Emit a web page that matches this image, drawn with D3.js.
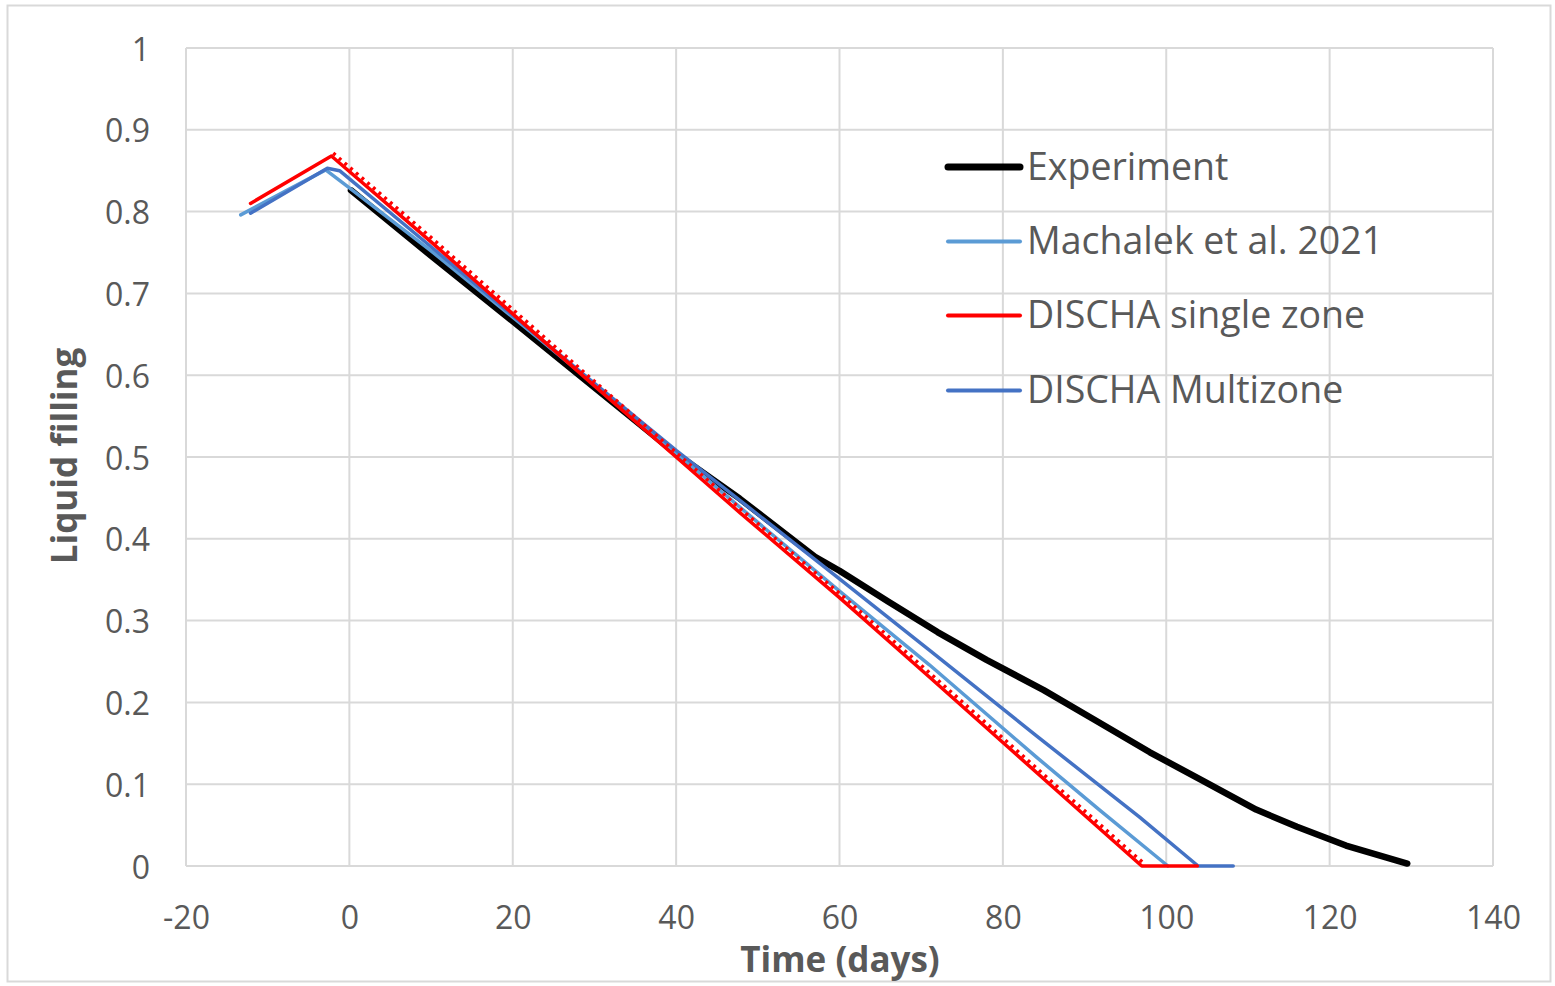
<!DOCTYPE html>
<html>
<head>
<meta charset="utf-8">
<script src="https://cdn.jsdelivr.net/npm/d3@7"></script>
<style>
  html, body { margin: 0; padding: 0; background: #fff; }
  svg { display: block; font-family: "Open Sans", "Noto Sans", sans-serif; }
</style>
</head>
<body>
<svg id="chart" width="1555" height="986"></svg>
<script>
// Liquid filling vs. time, measured and simulated
const xTicks = [-20, 0, 20, 40, 60, 80, 100, 120, 140];
const xTickLabels = ["-20", "0", "20", "40", "60", "80", "100", "120", "140"];
const yTicks = [0, 0.1, 0.2, 0.3, 0.4, 0.5, 0.6, 0.7, 0.8, 0.9, 1];
const yTickLabels = ["0", "0.1", "0.2", "0.3", "0.4", "0.5", "0.6", "0.7", "0.8", "0.9", "1"];

const seriesNames = ["Experiment", "Machalek et al. 2021", "DISCHA single zone", "DISCHA Multizone"];

// [time (days), liquid filling]
const experiment = [
  [0.2, 0.826], [10, 0.746], [20, 0.666], [30, 0.585], [40, 0.504], [47.8, 0.449],
  [57, 0.378], [60, 0.361], [66, 0.323], [72, 0.286], [78, 0.252], [85, 0.215],
  [91, 0.180], [98, 0.139], [104.5, 0.104], [111, 0.069], [116, 0.048], [122, 0.025],
  [129.5, 0.003]
];
const machalek = [
  [-13.3, 0.796], [-2.9, 0.851], [0, 0.829], [10, 0.752], [20, 0.671], [30, 0.589],
  [40, 0.505], [50, 0.420], [60, 0.336], [71, 0.246], [84, 0.134], [92, 0.067],
  [100.2, 0]
];
const dischaSingle = [
  [-12.1, 0.810], [-2.2, 0.868], [10, 0.763], [20, 0.675], [30, 0.587], [40, 0.500],
  [47.8, 0.432], [60, 0.328], [71, 0.231], [80, 0.151], [90, 0.062], [97, 0],
  [103.8, 0]
];
const dischaMulti = [
  [-12.1, 0.798], [-2.7, 0.853], [-1.2, 0.850], [10, 0.757], [20, 0.673], [30, 0.590],
  [40, 0.508], [47.8, 0.447], [60, 0.351], [71, 0.264], [84, 0.160], [96.7, 0.060],
  [103.9, 0], [108.2, 0]
];

const colors = ["#000000", "#5B9BD5", "#FF0000", "#4472C4"];
const widths = [6.5, 3.5, 3.5, 3.5];
const seriesData = [experiment, machalek, dischaSingle, dischaMulti];

const svg = d3.select("#chart");
const plot = { left: 186, right: 1493, top: 48, bottom: 866 };

const x = d3.scaleLinear().domain([-20, 140]).range([plot.left, plot.right]);
const y = d3.scaleLinear().domain([0, 1]).range([plot.bottom, plot.top]);

const gridColor = "#d9d9d9";
const textColor = "#595959";

// outer chart border
svg.append("rect")
  .attr("x", 7.5).attr("y", 5.5).attr("width", 1543).attr("height", 976)
  .attr("fill", "none").attr("stroke", gridColor).attr("stroke-width", 2);

// gridlines
svg.append("g").selectAll("line").data(xTicks).join("line")
  .attr("x1", d => x(d)).attr("x2", d => x(d))
  .attr("y1", plot.top).attr("y2", plot.bottom)
  .attr("stroke", gridColor).attr("stroke-width", 2);
svg.append("g").selectAll("line").data(yTicks).join("line")
  .attr("x1", plot.left).attr("x2", plot.right)
  .attr("y1", d => y(d)).attr("y2", d => y(d))
  .attr("stroke", gridColor).attr("stroke-width", 2);

// axes (labels only, lines come from the grid)
const xAxis = d3.axisBottom(x).tickValues(xTicks).tickSize(0).tickPadding(36)
  .tickFormat((d, i) => xTickLabels[i]);
const gx = svg.append("g").attr("transform", `translate(0,${plot.bottom})`).call(xAxis);
gx.select(".domain").remove();
gx.selectAll("text").attr("font-size", 32).attr("fill", textColor)
  .attr("font-family", "Open Sans, sans-serif").attr("dy", 0).attr("y", 63);

const yAxis = d3.axisLeft(y).tickValues(yTicks).tickSize(0).tickPadding(36)
  .tickFormat((d, i) => yTickLabels[i]);
const gy = svg.append("g").attr("transform", `translate(${plot.left},0)`).call(yAxis);
gy.select(".domain").remove();
gy.selectAll("text").attr("font-size", 32).attr("fill", textColor)
  .attr("font-family", "Open Sans, sans-serif").attr("dy", 0).attr("y", 12).attr("x", -36);

// axis titles
svg.append("text")
  .attr("x", 840).attr("y", 972).attr("text-anchor", "middle")
  .attr("font-size", 35).attr("font-weight", "bold").attr("fill", textColor)
  .text("Time (days)");
svg.append("text")
  .attr("transform", "translate(77,456) rotate(-90)").attr("text-anchor", "middle")
  .attr("font-size", 35).attr("font-weight", "bold").attr("fill", textColor)
  .text("Liquid filling");

// series lines
const line = d3.line().x(d => x(d[0])).y(d => y(d[1]));
const drawOrder = [0, 1, 3, 2];
drawOrder.forEach(i => {
  svg.append("path")
    .datum(seriesData[i])
    .attr("d", line)
    .attr("fill", "none")
    .attr("stroke", colors[i])
    .attr("stroke-width", widths[i])
    .attr("stroke-linejoin", "round")
    .attr("stroke-linecap", "round");
});

// the single-zone model is stepped day by day: serrated edge on its falling limb
const peakIdx = d3.maxIndex(dischaSingle, d => d[1]);
const emptyIdx = dischaSingle.findIndex(d => d[1] === 0);
const fallingLimb = dischaSingle.slice(peakIdx, emptyIdx + 1);
svg.append("path")
  .datum(fallingLimb)
  .attr("d", line)
  .attr("transform", "translate(1.8,-2.8)")
  .attr("fill", "none")
  .attr("stroke", colors[2])
  .attr("stroke-width", 3.5)
  .attr("stroke-dasharray", "3 4.5");

// legend
const legendY = [167, 241.5, 315.5, 390.5];
const legend = svg.append("g");
seriesNames.forEach((name, i) => {
  legend.append("line")
    .attr("x1", 948).attr("x2", 1020)
    .attr("y1", legendY[i]).attr("y2", legendY[i])
    .attr("stroke", colors[i]).attr("stroke-width", i === 0 ? 7 : 4)
    .attr("stroke-linecap", "round");
  legend.append("text")
    .attr("x", 1027).attr("y", legendY[i] + 12.5)
    .attr("font-size", 37.5).attr("fill", textColor)
    .text(name);
});
</script>
</body>
</html>
